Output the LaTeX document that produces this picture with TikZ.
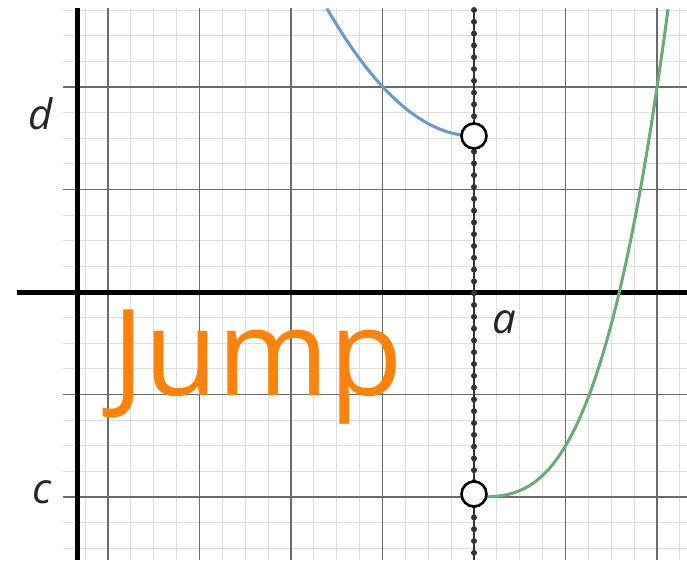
\documentclass[tikz,border=0pt]{standalone}
\usepackage{fontspec}
\setmainfont{Open Sans}
\definecolor{curveblue}{RGB}{104,152,204}
\definecolor{curvegreen}{RGB}{104,172,116}
\definecolor{inkorange}{RGB}{255,130,10}
\tikzset{
  minorgrid/.style={draw=black!13, line width=1pt},
  majorgrid/.style={draw=black!58, line width=1.3pt},
  axisline/.style={draw=black, line width=5pt},
  fnline/.style={line width=3pt},
  opencirc/.style={circle, draw=black, fill=white, line width=2.6pt, minimum size=25pt, inner sep=0pt},
  lbl/.style={font=\fontsize{42}{44}\selectfont\itshape, text=black!85, inner sep=0pt},
}
\begin{document}
\begin{tikzpicture}[x=1pt,y=-1pt]
\useasboundingbox (0,0) rectangle (687,565);
% grid
\foreach \i in {-17,...,9} \draw[minorgrid] ({474+\i*22.875},8) -- ({474+\i*22.875},560);
\foreach \j in {-11,...,10} \draw[minorgrid] (63,{292+\j*25.625}) -- (687,{292+\j*25.625});
\foreach \i in {-16,-12,-8,-4,0,4,8} \draw[majorgrid] ({474+\i*22.875},8) -- ({474+\i*22.875},560);
\foreach \j in {-8,-4,4,8} \draw[majorgrid] (63,{292+\j*25.625}) -- (687,{292+\j*25.625});
% axes
\coordinate (xl) at (17,292);
\coordinate (xr) at (687,292);
\coordinate (yt) at (77,8);
\coordinate (yb) at (77,560);
\draw[axisline] (xl) -- (xr);
\draw[axisline] (yt) -- (yb);
% vertical line x = a
\coordinate (at) at (474,10);
\coordinate (ab) at (474,560);
\draw[line width=1.4pt, black!80] (at) -- (ab);
\draw[line width=6pt, line cap=round, dash pattern=on 0pt off 11.8pt, black!80] (at) -- (ab);
% curves
\draw[fnline, curveblue, domain=327:474, samples=60] plot (\x, {136-59*((474-\x)/100)^2});
\draw[fnline, curvegreen, domain=474:668, samples=80] plot (\x, {497-66.8*((\x-474)/100)^3});
% open circles
\node[opencirc] (pd) at (474,136) {};
\node[opencirc] (pc) at (474,494) {};
% labels
\node[lbl] (ld) at (41,114) {d};
\node[lbl] (lc) at (42,492) {c};
\node[lbl] (la) at (504,322) {a};
% annotation
\node[anchor=base west, inner sep=0pt, text=inkorange, font=\fontsize{120}{120}\selectfont] (jump) at (112,395) {Jump};
\end{tikzpicture}
\end{document}
